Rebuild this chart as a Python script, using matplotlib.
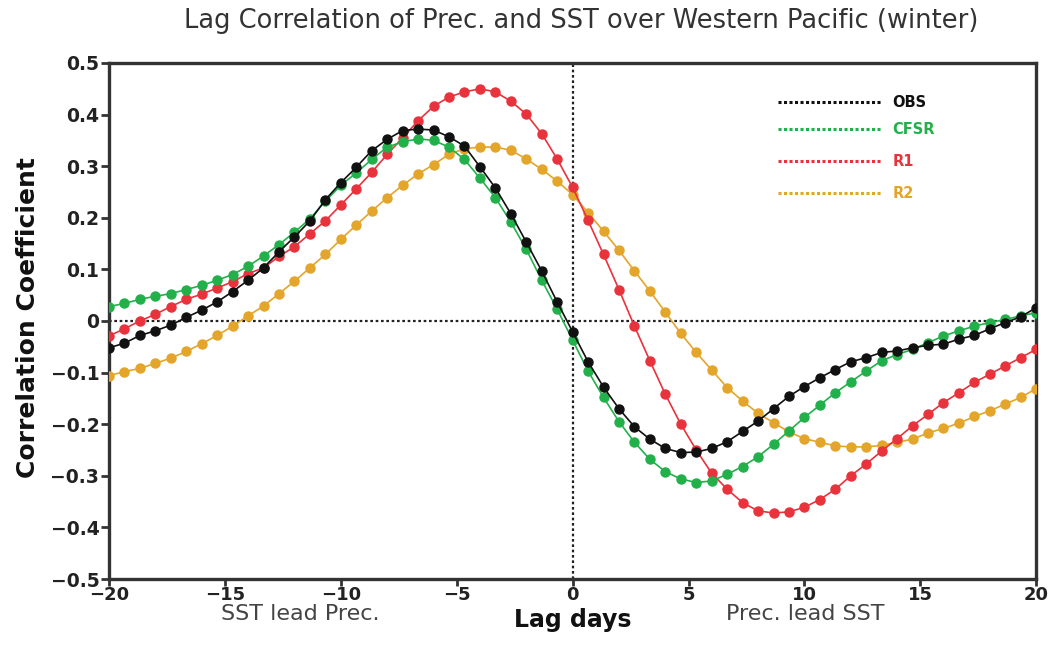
import numpy as np
import matplotlib
matplotlib.use("Agg")
import matplotlib.pyplot as plt

lag_days = np.linspace(-20, 20, 61)

obs = [-0.052, -0.043, -0.028, -0.019, -0.008, 0.007, 0.021, 0.037, 0.057, 0.079,
       0.103, 0.134, 0.163, 0.194, 0.235, 0.268, 0.298, 0.330, 0.352, 0.369,
       0.372, 0.370, 0.357, 0.339, 0.299, 0.258, 0.208, 0.153, 0.097, 0.037, -0.021,
       -0.079, -0.128, -0.170, -0.205, -0.229, -0.247, -0.255, -0.254, -0.247, -0.234,
       -0.214, -0.194, -0.170, -0.146, -0.127, -0.110, -0.094, -0.079, -0.071, -0.061,
       -0.058, -0.052, -0.047, -0.045, -0.035, -0.028, -0.015, -0.003, 0.008, 0.026]

cfsr = [0.028, 0.034, 0.042, 0.048, 0.053, 0.061, 0.069, 0.079, 0.090, 0.106,
        0.126, 0.148, 0.172, 0.198, 0.232, 0.263, 0.287, 0.313, 0.337, 0.347,
        0.353, 0.350, 0.337, 0.313, 0.277, 0.239, 0.192, 0.139, 0.079, 0.023, -0.037,
        -0.097, -0.148, -0.195, -0.235, -0.268, -0.292, -0.306, -0.313, -0.310, -0.297,
        -0.282, -0.263, -0.239, -0.213, -0.187, -0.163, -0.139, -0.118, -0.097, -0.077,
        -0.065, -0.055, -0.042, -0.029, -0.019, -0.010, -0.003, 0.003, 0.010, 0.016]

r1 = [-0.029, -0.015, 0.000, 0.013, 0.028, 0.042, 0.052, 0.064, 0.076, 0.092,
      0.103, 0.125, 0.144, 0.169, 0.194, 0.225, 0.256, 0.288, 0.323, 0.355,
      0.388, 0.416, 0.434, 0.444, 0.450, 0.444, 0.426, 0.401, 0.363, 0.314, 0.259,
      0.195, 0.129, 0.061, -0.010, -0.077, -0.142, -0.200, -0.250, -0.295, -0.326,
      -0.352, -0.368, -0.372, -0.370, -0.361, -0.346, -0.326, -0.300, -0.277, -0.252,
      -0.228, -0.203, -0.181, -0.158, -0.139, -0.119, -0.103, -0.087, -0.071, -0.055]

r2 = [-0.106, -0.098, -0.092, -0.082, -0.072, -0.059, -0.044, -0.028, -0.010, 0.010,
      0.029, 0.053, 0.077, 0.103, 0.129, 0.158, 0.186, 0.213, 0.239, 0.263,
      0.285, 0.303, 0.323, 0.334, 0.337, 0.337, 0.331, 0.314, 0.294, 0.271, 0.245,
      0.210, 0.174, 0.137, 0.097, 0.058, 0.017, -0.024, -0.061, -0.095, -0.129,
      -0.155, -0.179, -0.197, -0.215, -0.228, -0.235, -0.242, -0.244, -0.244, -0.241,
      -0.235, -0.229, -0.217, -0.208, -0.198, -0.185, -0.174, -0.161, -0.148, -0.131]

series_names = ["OBS", "CFSR", "R1", "R2"]
series_vals = [obs, cfsr, r1, r2]
colors = ["#111111", "#22b04b", "#e8323c", "#e3a52a"]

x_ticks = [-20, -15, -10, -5, 0, 5, 10, 15, 20]
y_ticks = [0.5, 0.4, 0.3, 0.2, 0.1, 0.0, -0.1, -0.2, -0.3, -0.4, -0.5]
y_ticklabels = ["0.5", "0.4", "0.3", "0.2", "0.1", "0", "\u22120.1", "\u22120.2",
                "\u22120.3", "\u22120.4", "\u22120.5"]
x_ticklabels = ["\u221220", "\u221215", "\u221210", "\u22125", "0", "5", "10", "15", "20"]

fig = plt.figure(figsize=(10.52, 6.46), dpi=100)
ax = fig.add_axes([0.1036, 0.1037, 0.8814, 0.7988])

ax.axhline(0, color="#222222", lw=1.6, ls=(0, (1.2, 1.2)), zorder=1)
ax.axvline(0, color="#222222", lw=1.6, ls=(0, (1.2, 1.2)), zorder=1)

# draw order: R2, R1, CFSR, OBS on top
for idx in [3, 2, 1, 0]:
    ax.plot(lag_days, series_vals[idx], color=colors[idx], lw=1.2, marker="o",
            ms=6.5, mec=colors[idx], mfc=colors[idx], zorder=3 + (3 - idx))

ax.set_xlim(-20, 20)
ax.set_ylim(-0.5, 0.5)
ax.set_xticks(x_ticks)
ax.set_xticklabels(x_ticklabels)
ax.set_yticks(y_ticks)
ax.set_yticklabels(y_ticklabels)
for sp in ax.spines.values():
    sp.set_linewidth(2.4)
    sp.set_color("#333333")
ax.tick_params(axis="both", direction="out", length=6, width=2, color="#333333",
               labelsize=13.5, labelcolor="#222222", pad=1)
ax.tick_params(axis="x", length=5, pad=0, labelsize=13)
for lbl in ax.get_xticklabels() + ax.get_yticklabels():
    lbl.set_fontweight("bold")

# legend (manual)
leg_y = [0.924, 0.872, 0.810, 0.748]
for name, c, yy in zip(series_names, colors, leg_y):
    ax.plot([0.722, 0.833], [yy, yy], transform=ax.transAxes, color=c,
            lw=2.2, ls=(0, (1, 0.8)), zorder=6)
    ax.text(0.845, yy, name, transform=ax.transAxes, color=c, fontsize=10.5,
            fontweight="bold", va="center", ha="left")

fig.text(0.552, 0.968, "Lag Correlation of Prec. and SST over Western Pacific (winter)",
         ha="center", va="center", fontsize=18.5, color="#333333")
fig.text(0.027, 0.508, "Correlation Coefficient", rotation=90, ha="center",
         va="center", fontsize=18, fontweight="bold", color="#111111")
fig.text(0.544, 0.040, "Lag days", ha="center", va="center", fontsize=17,
         fontweight="bold", color="#111111")
fig.text(0.285, 0.050, "SST lead Prec.", ha="center", va="center", fontsize=16,
         color="#444444")
fig.text(0.765, 0.050, "Prec. lead SST", ha="center", va="center", fontsize=16,
         color="#444444")

fig.savefig("out.png", dpi=100, facecolor="white")
